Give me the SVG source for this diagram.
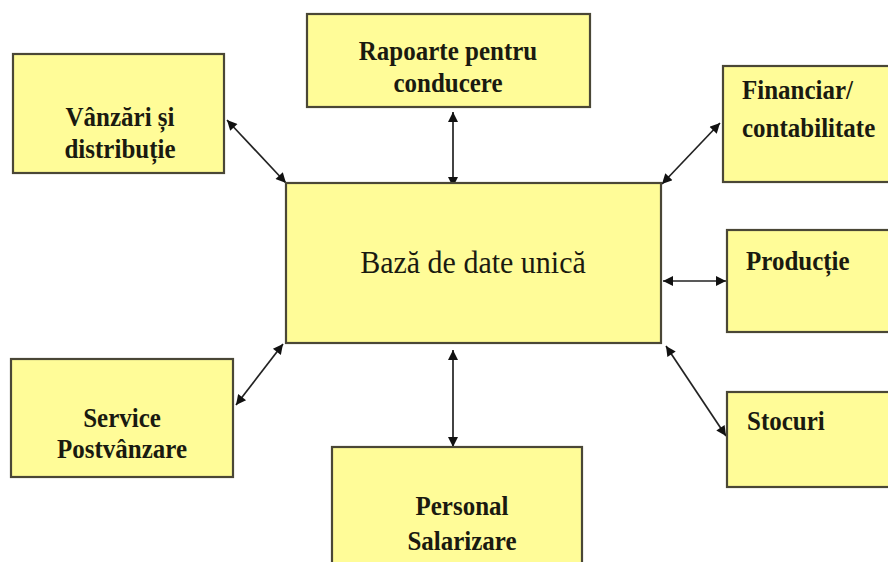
<svg xmlns="http://www.w3.org/2000/svg" width="888" height="562" viewBox="0 0 888 562">
<style>
.box{fill:#FFFC98;stroke:#4a4736;stroke-width:2.2}
.lbl{font-family:"Liberation Serif","Times New Roman","DejaVu Serif",serif;font-weight:bold;font-size:25px;fill:#1a1a10}
.mid{text-anchor:middle}
.main{font-family:"Liberation Serif","Times New Roman","DejaVu Serif",serif;font-size:30px;fill:#1a1a10;text-anchor:middle}
.con{stroke:#222;stroke-width:1.7;fill:none;marker-start:url(#ah);marker-end:url(#ah)}
</style>
<defs>
<marker id="ah" viewBox="0 0 10 10" refX="10" refY="5" markerWidth="12" markerHeight="10" markerUnits="userSpaceOnUse" orient="auto-start-reverse">
<path d="M0,0 L10,5 L0,10 Z" fill="#111"/>
</marker>
</defs>
<rect width="888" height="562" fill="#ffffff"/>
<g id="connectors">
<line class="con" x1="453" y1="112" x2="453" y2="187"/>
<line class="con" x1="227" y1="120" x2="286" y2="183"/>
<line class="con" x1="720" y1="123" x2="662" y2="184"/>
<line class="con" x1="663" y1="281" x2="726" y2="281"/>
<line class="con" x1="666" y1="346" x2="726" y2="436"/>
<line class="con" x1="283" y1="344" x2="236" y2="405"/>
<line class="con" x1="453" y1="350" x2="453" y2="447"/>
</g>
<g id="baza">
<rect class="box" x="286" y="183" width="375" height="160"/>
<text class="main" transform="translate(473 273) scale(1 1.05)">Bază de date unică</text>
</g>
<g id="rapoarte">
<rect class="box" x="307" y="14" width="283" height="93"/>
<text class="lbl mid" transform="translate(448 60) scale(1 1.12)">Rapoarte pentru</text>
<text class="lbl mid" transform="translate(448 92) scale(1 1.12)">conducere</text>
</g>
<g id="vanzari">
<rect class="box" x="13" y="54" width="211" height="119"/>
<text class="lbl mid" transform="translate(120 126) scale(1 1.12)">Vânzări și</text>
<text class="lbl mid" transform="translate(120 158) scale(1 1.12)">distribuție</text>
</g>
<g id="financiar">
<rect class="box" x="723" y="66" width="170" height="116"/>
<text class="lbl" transform="translate(742 99) scale(1 1.12)">Financiar/</text>
<text class="lbl" transform="translate(742 137) scale(1 1.12)">contabilitate</text>
</g>
<g id="productie">
<rect class="box" x="727" y="230" width="166" height="102"/>
<text class="lbl" transform="translate(746 270) scale(1 1.12)">Producție</text>
</g>
<g id="stocuri">
<rect class="box" x="727" y="392" width="166" height="95"/>
<text class="lbl" transform="translate(747 430) scale(1 1.12)">Stocuri</text>
</g>
<g id="service">
<rect class="box" x="11" y="359" width="222" height="118"/>
<text class="lbl mid" transform="translate(122 427) scale(1 1.12)">Service</text>
<text class="lbl mid" transform="translate(122 458) scale(1 1.12)">Postvânzare</text>
</g>
<g id="personal">
<rect class="box" x="332" y="447" width="250" height="120"/>
<text class="lbl mid" transform="translate(462 515) scale(1 1.12)">Personal</text>
<text class="lbl mid" transform="translate(462 550) scale(1 1.12)">Salarizare</text>
</g>
</svg>
